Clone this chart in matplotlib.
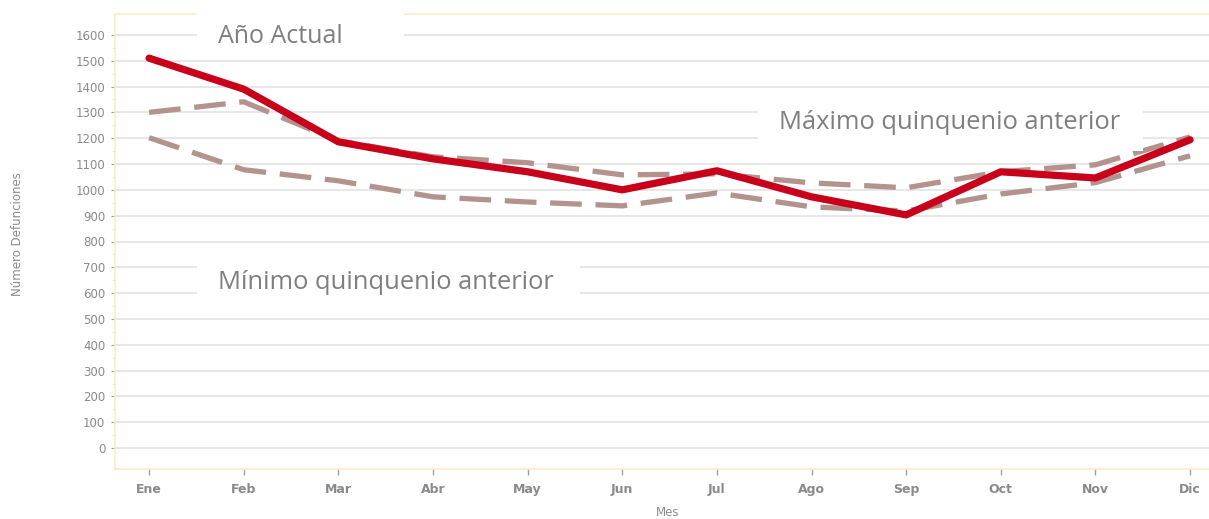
import matplotlib.pyplot as plt
from matplotlib.patches import Rectangle

meses = ["Ene", "Feb", "Mar", "Abr", "May", "Jun", "Jul", "Ago", "Sep", "Oct", "Nov", "Dic"]
anio_actual = [1510, 1390, 1186, 1120, 1070, 1000, 1074, 973, 903, 1070, 1046, 1194]
maximo = [1300, 1341, 1190, 1128, 1105, 1058, 1062, 1027, 1008, 1070, 1097, 1205]
minimo = [1202, 1078, 1035, 973, 953, 938, 988, 934, 918, 984, 1028, 1132]

gris = "#8a8a8a"
fig = plt.figure(figsize=(12.09, 5.19), dpi=100)
ax = fig.add_axes([115/1209, 1-469/519, 1-115/1209, (469-14)/519])

x = range(len(meses))
ax.plot(x, maximo, color="#b3938d", lw=3.8, dashes=(6, 2.6), zorder=3)
ax.plot(x, minimo, color="#b3938d", lw=3.8, dashes=(6, 2.6), zorder=3)
ax.plot(x, anio_actual, color="#c8001a", lw=5.2, solid_capstyle="round", zorder=4)

ax.set_xlim(-0.36, 11.2)
ax.set_ylim(-81, 1681)
ax.set_yticks(range(0, 1601, 100))
ax.set_yticks(range(50, 1601, 100), minor=True)
ax.set_xticks(list(x))
ax.set_xticklabels(meses)
ax.grid(axis="y", color="#e3e3e3", lw=1.2, zorder=0)
ax.set_axisbelow(True)

for s in ["left", "top", "bottom"]:
    ax.spines[s].set_color("#fdebc6")
    ax.spines[s].set_linewidth(1.2)
ax.spines["right"].set_visible(False)

ax.tick_params(axis="y", which="major", length=3, width=0.8, color="#a0a0a0",
               labelcolor=gris, labelsize=8.5, pad=4)
ax.tick_params(axis="y", which="minor", length=1.5, width=0.6, color="#b0b0b0")
ax.tick_params(axis="x", length=4, width=1, color="#a0a0a0", labelcolor=gris,
               labelsize=9, pad=6)
for lab in ax.get_xticklabels():
    lab.set_fontweight("bold")

# titulos de los ejes
fig.text(18/1209, 1-234/519, "Número Defunciones", color=gris, fontsize=8.5,
         rotation=90, ha="center", va="center")
fig.text(668/1209, 1-512/519, "Mes", color=gris, fontsize=8.5, ha="center", va="center")

# cajas blancas detras de los textos
ax.add_patch(Rectangle((0.507, 1540), 2.187, 170, facecolor="white", edgecolor="none",
                       zorder=5, clip_on=False))
ax.add_patch(Rectangle((6.435, 1150), 4.068, 200, facecolor="white", edgecolor="none", zorder=5))
ax.add_patch(Rectangle((0.507, 550), 4.047, 200, facecolor="white", edgecolor="none", zorder=5))

ax.text(1.39, 1592, "Año Actual", fontsize=18, color="#7f7f7f", family="Open Sans",
        va="center", ha="center", zorder=6)
ax.text(8.46, 1262, "Máximo quinquenio anterior", fontsize=18.4, color="#7f7f7f",
        family="Open Sans", va="center", ha="center", zorder=6)
ax.text(2.5, 641, "Mínimo quinquenio anterior", fontsize=18.4, color="#7f7f7f",
        family="Open Sans", va="center", ha="center", zorder=6)

fig.savefig("out.png", dpi=100)
